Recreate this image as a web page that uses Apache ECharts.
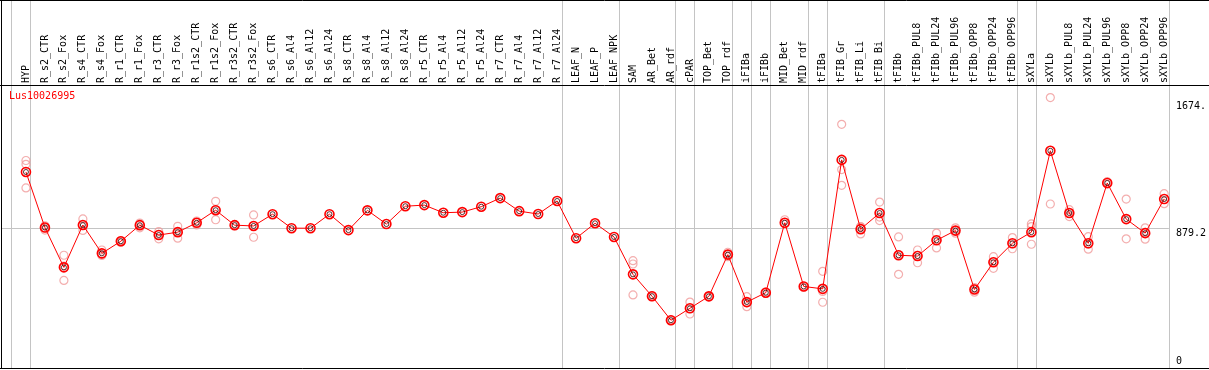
<!DOCTYPE html>
<html>
<head>
<meta charset="utf-8">
<script src="https://cdn.jsdelivr.net/npm/echarts@6/dist/echarts.min.js"></script>
<style>
  html, body { margin: 0; padding: 0; background: #fff; }
  #chart-panel { width: 1209px; height: 370px; }
</style>
</head>
<body>
<div id="chart-panel"></div>
<script>
var geneName = 'Lus10026995';

var categories = [
  'HYP', 'R_s2_CTR', 'R_s2_Fox', 'R_s4_CTR', 'R_s4_Fox', 'R_r1_CTR', 'R_r1_Fox',
  'R_r3_CTR', 'R_r3_Fox', 'R_r1s2_CTR', 'R_r1s2_Fox', 'R_r3s2_CTR', 'R_r3s2_Fox',
  'R_s6_CTR', 'R_s6_Al4', 'R_s6_Al12', 'R_s6_Al24', 'R_s8_CTR', 'R_s8_Al4',
  'R_s8_Al12', 'R_s8_Al24', 'R_r5_CTR', 'R_r5_Al4', 'R_r5_Al12', 'R_r5_Al24',
  'R_r7_CTR', 'R_r7_Al4', 'R_r7_Al12', 'R_r7_Al24', 'LEAF_N', 'LEAF_P', 'LEAF_NPK',
  'SAM', 'AR_Bet', 'AR_rdf', 'cPAR', 'TOP_Bet', 'TOP_rdf', 'iFIBa', 'iFIBb',
  'MID_Bet', 'MID_rdf', 'tFIBa', 'tFIB_Gr', 'tFIB_Li', 'tFIB_Bi', 'tFIBb',
  'tFIBb_PUL8', 'tFIBb_PUL24', 'tFIBb_PUL96', 'tFIBb_OPP8', 'tFIBb_OPP24',
  'tFIBb_OPP96', 'sXYLa', 'sXYLb', 'sXYLb_PUL8', 'sXYLb_PUL24', 'sXYLb_PUL96',
  'sXYLb_OPP8', 'sXYLb_OPP24', 'sXYLb_OPP96'
];

// mean expression per sample
var meanValues = [
  1231, 882, 632, 898, 720, 796, 897, 835, 853, 912, 991, 897, 892,
  966, 878, 878, 966, 866, 990, 904, 1016, 1023, 975, 979, 1013,
  1067, 985, 967, 1049, 815, 909, 823,
  588, 451, 300, 375, 450, 712, 414, 473, 912, 512,
  497, 1307, 872, 973, 708, 703, 802, 863, 493, 664, 783,
  853, 1364, 973, 783, 1162, 935, 847, 1061
];

// individual replicates per sample (empty where none show)
var replicates = [
  [1303, 1279, 1131], [893, 880, 866], [708, 640, 550], [936, 897, 864],
  [741, 712, 707], [800, 796, 790], [910, 900, 880], [857, 838, 811],
  [890, 855, 815], [923, 913, 898], [1047, 993, 931], [900, 897, 894],
  [961, 893, 821], [], [], [], [], [], [], [], [], [], [], [], [], [], [], [], [],
  [], [], [],
  [674, 653, 459], [455, 448], [303, 297], [414, 372, 339], [452, 448],
  [727, 712, 699], [448, 410, 385], [478, 468], [931, 905], [515, 508],
  [607, 481, 413], [1530, 1246, 1147], [888, 885, 842], [1042, 948, 926],
  [823, 712, 588], [741, 707, 661], [847, 805, 754], [880, 862, 847],
  [498, 476, 505], [699, 667, 626], [819, 781, 749],
  [905, 888, 777], [1698, 1030], [994, 973, 951], [825, 778, 746],
  [1170, 1155], [1061, 811], [880, 852, 809], [1095, 1032]
];

// sample index after which a group separator falls
var groupEnds = [-1, 0, 28, 31, 34, 35, 37, 38, 39, 41, 42, 45, 52, 53, 60];

var midValue = 879.2;
var yTicks = [0, 879.2, 1674];
var yTickLabels = ['0', '879.2', '1674.'];

var mono = 'DejaVu Sans Mono';

var lineData = meanValues.map(function (v, i) { return [i, v]; });
var repData = [];
replicates.forEach(function (reps, i) {
  reps.forEach(function (r) { repData.push([i, r]); });
});

var markData = groupEnds.map(function (i) { return { xAxis: i + 0.25 }; });
markData.push({ yAxis: midValue });

var chart = echarts.init(document.getElementById('chart-panel'));

var option = {
  backgroundColor: '#fff',
  animation: false,
  title: {
    text: geneName,
    left: 9,
    top: 91,
    padding: 0,
    textStyle: { color: '#ff0000', fontSize: 10, fontFamily: mono, fontWeight: 'normal' }
  },
  grid: { left: 1, right: 38.3, top: 0, bottom: 2 },
  xAxis: {
    type: 'value',
    position: 'top',
    offset: -85,
    min: -1.316,
    max: 60.25,
    axisLine: { show: false },
    axisTick: { show: false },
    splitLine: { show: false },
    axisLabel: {
      customValues: categories.map(function (c, i) { return i; }),
      rotate: 90,
      margin: 2,
      color: '#000',
      fontSize: 10,
      fontFamily: mono,
      formatter: function (v) { return categories[v]; }
    }
  },
  yAxis: {
    type: 'value',
    position: 'right',
    min: 0,
    max: 2311,
    axisLine: { show: false },
    axisTick: { show: false },
    splitLine: { show: false },
    axisLabel: {
      customValues: yTicks,
      margin: 7,
      color: '#000',
      fontSize: 10,
      fontFamily: mono,
      formatter: function (v) {
        var s = yTickLabels[yTicks.indexOf(v)];
        return v === 0 ? '{lo|' + s + '}' : '{hi|' + s + '}';
      },
      rich: {
        hi: { padding: [10, 0, 0, 0], fontSize: 10, fontFamily: mono, color: '#000' },
        lo: { padding: [0, 0, 13, 0], fontSize: 10, fontFamily: mono, color: '#000' }
      }
    }
  },
  graphic: [
    { type: 'line', shape: { x1: 0, y1: 0.5, x2: 1209, y2: 0.5 }, style: { stroke: '#000', lineWidth: 1 }, z: 10 },
    { type: 'line', shape: { x1: 0, y1: 85.5, x2: 1209, y2: 85.5 }, style: { stroke: '#000', lineWidth: 1 }, z: 10 },
    { type: 'line', shape: { x1: 0, y1: 368.5, x2: 1209, y2: 368.5 }, style: { stroke: '#000', lineWidth: 1 }, z: 10 },
    { type: 'line', shape: { x1: 1.5, y1: 0, x2: 1.5, y2: 369 }, style: { stroke: '#000', lineWidth: 1 }, z: 10 }
  ],
  series: [
    {
      // replicates
      type: 'scatter',
      data: repData,
      symbol: 'circle',
      symbolSize: 8,
      z: 2,
      itemStyle: { color: 'rgba(0,0,0,0)', borderColor: '#f09a9a', borderWidth: 1.2 },
      clip: false
    },
    {
      type: 'line',
      data: lineData,
      symbol: 'circle',
      symbolSize: 9,
      z: 3,
      clip: false,
      lineStyle: { color: '#ff0000', width: 1 },
      itemStyle: { color: 'rgba(0,0,0,0)', borderColor: '#ff0000', borderWidth: 1.6 },
      markLine: {
        silent: true,
        symbol: 'none',
        z: 1,
        label: { show: false },
        lineStyle: { color: '#c4c4c4', width: 1, type: 'solid' },
        data: markData
      }
    },
    {
      // dark inner ring of the mean markers
      type: 'scatter',
      data: lineData,
      symbol: 'circle',
      symbolSize: 5,
      z: 4,
      clip: false,
      itemStyle: { color: 'rgba(0,0,0,0)', borderColor: '#300000', borderWidth: 1 }
    }
  ]
};

chart.setOption(option);
</script>
</body>
</html>
